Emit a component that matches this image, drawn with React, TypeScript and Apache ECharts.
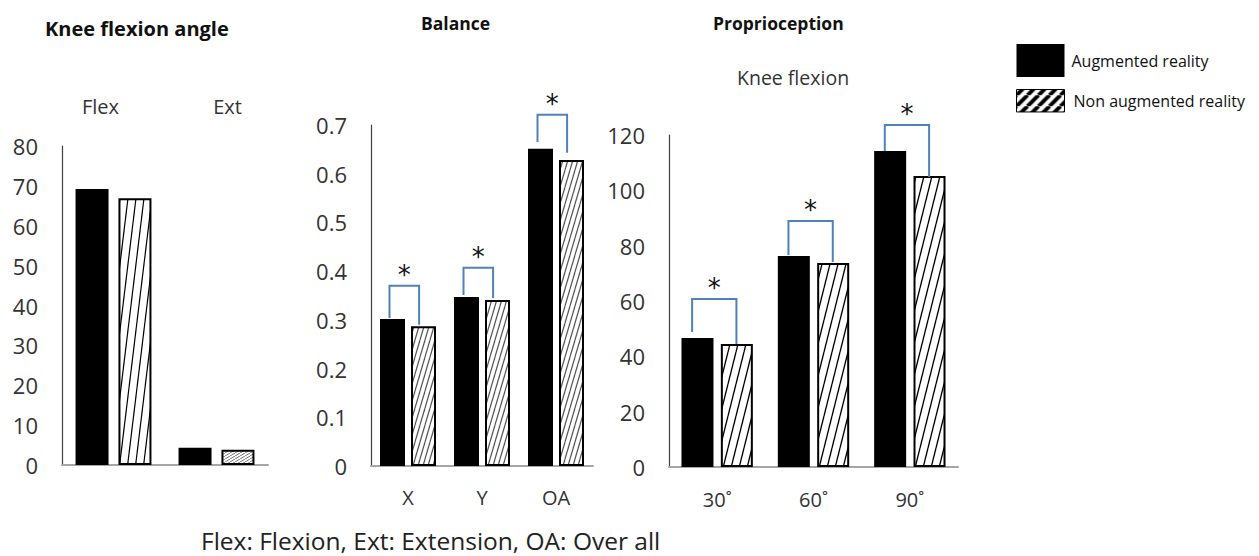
import React, { useEffect, useRef } from 'react';
import * as echarts from 'echarts';

// ---------- data ----------
const kneeCategories = ['Flex', 'Ext'];
const kneeAR = [69.2, 4.3];
const kneeNonAR = [66.9, 3.8];

const balanceCategories = ['X', 'Y', 'OA'];
const balanceAR = [0.302, 0.347, 0.651];
const balanceNonAR = [0.287, 0.341, 0.628];
// [category index, left leg start, bracket top, right leg end]
const balanceBrackets = [
  [0, 0.304, 0.37, 0.29],
  [1, 0.351, 0.407, 0.345],
  [2, 0.665, 0.721, 0.643],
];

const proprioCategories = ['30˚', '60˚', '90˚'];
const proprioAR = [46.6, 76.3, 114.2];
const proprioNonAR = [44.5, 73.7, 105.2];
const proprioBrackets = [
  [0, 48.8, 60.7, 44.5],
  [1, 76.6, 88.9, 74.1],
  [2, 114.2, 123.6, 104.8],
];

const seriesNames = ['Augmented reality', 'Non augmented reality'];
const panelTitles = ['Knee flexion angle', 'Balance', 'Proprioception'];
const subTitle = 'Knee flexion';
const footNote = 'Flex: Flexion, Ext: Extension, OA: Over all';

const FONT = '"Open Sans", Lato, sans-serif';

function hatch(w: number, h: number, color: string, lw: number, bg = '#fff') {
  const c = document.createElement('canvas');
  c.width = w;
  c.height = h;
  const ctx = c.getContext('2d')!;
  ctx.fillStyle = bg;
  ctx.fillRect(0, 0, w, h);
  ctx.strokeStyle = color;
  ctx.lineWidth = lw;
  for (let k = -1; k <= 1; k++) {
    ctx.beginPath();
    ctx.moveTo(k * w, h);
    ctx.lineTo(k * w + w, 0);
    ctx.stroke();
  }
  return { image: c.toDataURL(), imageWidth: w, imageHeight: h, repeat: 'repeat' };
}

function bracketRender(leftFrac: number, rightFrac: number) {
  return (params: any, api: any) => {
    const cat = api.value(0);
    const p0 = api.coord([cat, api.value(1)]);
    const pt = api.coord([cat, api.value(2)]);
    const p2 = api.coord([cat, api.value(3)]);
    const band = api.size([1, 0])[0];
    const xl = p0[0] + leftFrac * band;
    const xr = p0[0] + rightFrac * band;
    return {
      type: 'group',
      children: [
        {
          type: 'polyline',
          shape: { points: [[xl, p0[1]], [xl, pt[1]], [xr, pt[1]], [xr, p2[1]]] },
          style: { stroke: '#4f81bd', lineWidth: 2, fill: 'none' },
        },
        {
          type: 'text',
          x: (xl + xr) / 2,
          y: pt[1] + 2,
          style: {
            text: '*',
            fontSize: 26,
            fontFamily: 'DejaVu Sans',
            fill: '#111',
            align: 'center',
            verticalAlign: 'bottom',
          },
        },
      ],
    };
  };
}

export default function App() {
  const ref = useRef<HTMLDivElement>(null);
  useEffect(() => {
    if (!ref.current) return;
    const chart = echarts.init(ref.current, null, { renderer: 'svg' });

    const patKneeFlex = hatch(8, 66, '#000', 1.2);
    const patKneeExt = hatch(5, 3, '#777', 1);
    const patBalance = hatch(5, 17, '#555', 1.2);
    const patProprio = hatch(8, 32, '#000', 1.3);
    const patLegend = hatch(11, 11, '#000', 4);

    const labelStyle = { color: '#333', fontSize: 22, fontFamily: FONT };
    const yAxisCommon = {
      type: 'value',
      min: 0,
      axisLine: { show: true, lineStyle: { color: '#404040', width: 1.2 } },
      axisTick: { show: false },
      splitLine: { show: false },
      axisLabel: { ...labelStyle, margin: 24 },
    };
    const xAxisCommon = {
      type: 'category',
      axisLine: { show: true, lineStyle: { color: '#a6a6a6', width: 2 } },
      axisTick: { show: false },
      axisLabel: { ...labelStyle, fontSize: 20 },
    };

    const arStyle = { color: '#000' };
    const nonStyle = (pat: any) => ({ color: pat, borderColor: '#000', borderWidth: 2 });
    const titleStyle = (size: number) => ({ fontSize: size, fontWeight: 'bold', color: '#111', fontFamily: FONT });

    const option: any = {
      animation: false,
      textStyle: { fontFamily: FONT },
      title: [
        { text: panelTitles[0], left: 40, top: 13, textStyle: titleStyle(20) },
        { text: panelTitles[1], left: 416, top: 9, textStyle: titleStyle(17.5) },
        { text: panelTitles[2], left: 708, top: 9, textStyle: titleStyle(17.5) },
        { text: subTitle, left: 732, top: 62, textStyle: { fontSize: 19.5, fontWeight: 'normal', color: '#333', fontFamily: FONT } },
        { text: footNote, left: 196, top: 523, textStyle: { fontSize: 24.5, fontWeight: 'normal', color: '#222', fontFamily: FONT } },
      ],
      legend: {
        orient: 'vertical',
        left: 1011,
        top: 39,
        itemWidth: 48,
        itemHeight: 33,
        itemGap: 12,
        symbolKeepAspect: true,
        textStyle: { fontSize: 16, color: '#111', fontFamily: FONT },
        data: [
          { name: seriesNames[0], icon: 'rect', itemStyle: { color: '#000' }, textStyle: { padding: [0, 0, 0, 2] } },
          {
            name: seriesNames[1],
            icon: 'path://M0 0H47V22H0Z',
            itemStyle: { color: patLegend, borderColor: '#000', borderWidth: 1 },
            textStyle: { padding: [0, 0, 0, 4] },
          },
        ],
      },
      grid: [
        { left: 62, top: 146, width: 206, height: 319 },
        { left: 371, top: 125, width: 222, height: 341 },
        { left: 669, top: 135, width: 289, height: 332 },
      ],
      xAxis: [
        { ...xAxisCommon, gridIndex: 0, data: kneeCategories, axisLabel: { show: false } },
        {
          type: 'category',
          gridIndex: 0,
          position: 'top',
          data: kneeCategories,
          axisLine: { show: false },
          axisTick: { show: false },
          axisLabel: {
            ...labelStyle,
            fontSize: 20,
            margin: 30,
            formatter: (v: string, i: number) => (i === 0 ? `{a|${v}}` : `{b|${v}}`),
            rich: {
              a: { ...labelStyle, fontSize: 20, padding: [0, 26, 0, 0] },
              b: { ...labelStyle, fontSize: 20, padding: [0, 0, 0, 22] },
            },
          },
        },
        { ...xAxisCommon, gridIndex: 1, data: balanceCategories, axisLabel: { ...xAxisCommon.axisLabel, margin: 21 } },
        { ...xAxisCommon, gridIndex: 2, data: proprioCategories, axisLabel: { ...xAxisCommon.axisLabel, margin: 22 } },
      ],
      yAxis: [
        { ...yAxisCommon, gridIndex: 0, max: 80, interval: 10 },
        { ...yAxisCommon, gridIndex: 1, max: 0.7, interval: 0.1 },
        { ...yAxisCommon, gridIndex: 2, max: 120, interval: 20 },
      ],
      series: [
        { type: 'bar', name: seriesNames[0], xAxisIndex: 0, yAxisIndex: 0, data: kneeAR, barWidth: 33, barGap: '30%', itemStyle: arStyle },
        {
          type: 'bar', name: seriesNames[1], xAxisIndex: 0, yAxisIndex: 0, barWidth: 33, barGap: '30%',
          itemStyle: nonStyle(patKneeFlex),
          data: [
            { value: kneeNonAR[0], itemStyle: nonStyle(patKneeFlex) },
            { value: kneeNonAR[1], itemStyle: nonStyle(patKneeExt) },
          ],
        },
        { type: 'bar', name: seriesNames[0], xAxisIndex: 2, yAxisIndex: 1, data: balanceAR, barWidth: 25, barGap: '24%', itemStyle: arStyle },
        { type: 'bar', name: seriesNames[1], xAxisIndex: 2, yAxisIndex: 1, data: balanceNonAR, barWidth: 25, barGap: '24%', itemStyle: nonStyle(patBalance) },
        { type: 'bar', name: seriesNames[0], xAxisIndex: 3, yAxisIndex: 2, data: proprioAR, barWidth: 32, barGap: '23%', itemStyle: arStyle },
        { type: 'bar', name: seriesNames[1], xAxisIndex: 3, yAxisIndex: 2, data: proprioNonAR, barWidth: 32, barGap: '23%', itemStyle: nonStyle(patProprio) },
        {
          type: 'custom', name: 'balanceSig', xAxisIndex: 2, yAxisIndex: 1, clip: false, z: 5,
          encode: { x: 0, y: 2 }, data: balanceBrackets, renderItem: bracketRender(-0.25, 0.15),
        },
        {
          type: 'custom', name: 'proprioSig', xAxisIndex: 3, yAxisIndex: 2, clip: false, z: 5,
          encode: { x: 0, y: 2 }, data: proprioBrackets, renderItem: bracketRender(-0.26, 0.2),
        },
      ],
    };
    chart.setOption(option);
    return () => chart.dispose();
  }, []);
  return <div ref={ref} style={{ position: 'absolute', left: 0, top: 0, width: 1259, height: 556 }} />;
}
